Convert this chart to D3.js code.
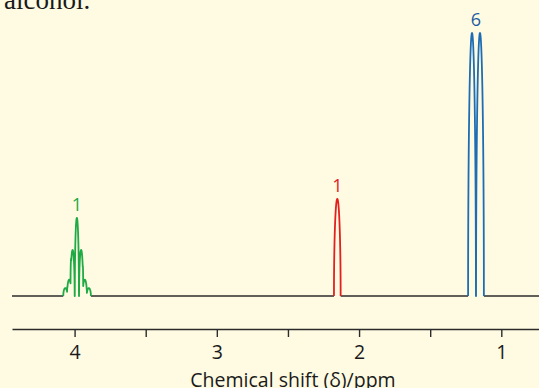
<!DOCTYPE html>
<html>
<head>
<meta charset="utf-8">
<script src="https://cdn.jsdelivr.net/npm/d3@7"></script>
<style>
  html, body { margin: 0; padding: 0; background: #fffbe3; }
  svg { display: block; }
  .tick text { font-family: "Open Sans", sans-serif; }
</style>
</head>
<body>
<svg id="chart" width="539" height="388"></svg>
<script>
// spectrum range shown (ppm, high to low)
const shiftRange = [4.44, 0.735];
const tickValues = [4, 3.5, 3, 2.5, 2, 1.5, 1];
const tickLabels = ['4', '', '3', '', '2', '', '1'];

// signal groups: label, colour, line positions (ppm), relative heights, half width (ppm)
const groupLabels = ['1', '1', '6'];
const groupColors = ['#1faa45', '#e3201e', '#1e6db4'];
const labelColors = ['#1faa45', '#e3201e', '#1f5b9f'];
const groupShifts = [
  [4.065, 4.038, 4.014, 3.984, 3.954, 3.928, 3.900],
  [2.153],
  [1.206, 1.150]
];
const groupHeights = [
  [3.0, 6.2, 17.5, 29.7, 17.5, 6.2, 3.0],
  [36.9],
  [100, 100]
];
const groupWidths = [0.0145, 0.0235, 0.0275];

const svg = d3.select('#chart');
const [width, height] = [539, 388];

svg.append('rect').attr('width', width).attr('height', height).attr('fill', '#fffbe3');

// leftover caption from the page above
svg.append('text')
  .attr('x', 4).attr('y', 9)
  .attr('font-family', '"Liberation Serif", serif')
  .attr('font-size', 27)
  .attr('fill', '#1a1a1a')
  .text('alcohol.');

const x = d3.scaleLinear().domain(shiftRange).range([12, 539]);
const y = d3.scaleLinear().domain([0, 100]).range([296, 33]);

// each line is an elliptical bump, group path is the sum sampled finely
const groups = groupShifts.map((shifts, i) => {
  const w = groupWidths[i];
  const lo = d3.min(shifts) - w, hi = d3.max(shifts) + w;
  const pts = [];
  const n = 600;
  for (let k = 0; k <= n; k++) {
    const s = hi - (hi - lo) * k / n;
    let v = 0;
    shifts.forEach((c, j) => {
      const u = (s - c) / w;
      if (Math.abs(u) < 1) v += groupHeights[i][j] * Math.sqrt(1 - u * u);
    });
    pts.push([s, v]);
  }
  return {lo, hi, pts, color: groupColors[i], labelColor: labelColors[i], label: groupLabels[i],
    top: d3.max(groupHeights[i]), center: d3.mean(shifts)};
});

// black baseline outside the signals
const sorted = groups.slice().sort((a, b) => b.hi - a.hi);
let start = shiftRange[0];
const segs = [];
sorted.forEach(g => { segs.push([start, g.hi]); start = g.lo; });
segs.push([start, shiftRange[1]]);
svg.append('g').selectAll('line')
  .data(segs)
  .enter().append('line')
  .attr('x1', d => x(d[0])).attr('x2', d => x(d[1]))
  .attr('y1', y(0)).attr('y2', y(0))
  .attr('stroke', '#2b2b2b').attr('stroke-width', 1.6);

const line = d3.line().x(d => x(d[0])).y(d => y(d[1]));

svg.append('g').selectAll('path')
  .data(groups)
  .enter().append('path')
  .attr('d', d => line(d.pts))
  .attr('fill', 'none')
  .attr('stroke', d => d.color)
  .attr('stroke-width', 1.8)
  .attr('stroke-linejoin', 'round');

svg.append('g').selectAll('text')
  .data(groups)
  .enter().append('text')
  .attr('x', d => x(d.center))
  .attr('y', d => y(d.top) - 7)
  .attr('text-anchor', 'middle')
  .attr('font-family', '"Open Sans", sans-serif')
  .attr('font-size', 18)
  .attr('fill', d => d.labelColor)
  .text(d => d.label);

// axis
const axis = svg.append('g')
  .attr('transform', 'translate(0,329)')
  .call(d3.axisBottom(x)
    .tickValues(tickValues)
    .tickFormat((d, i) => tickLabels[i])
    .tickSize(8)
    .tickSizeOuter(0)
    .tickPadding(8));
axis.select('.domain').attr('stroke', '#2b2b2b').attr('stroke-width', 1.6);
axis.selectAll('.tick line').attr('stroke', '#2b2b2b').attr('stroke-width', 1.4);
axis.selectAll('.tick text').attr('font-size', 19.5).attr('fill', '#1a1a1a');

svg.append('text')
  .attr('x', 293).attr('y', 386.5)
  .attr('text-anchor', 'middle')
  .attr('font-family', '"Open Sans", sans-serif')
  .attr('font-size', 19.5)
  .attr('fill', '#1a1a1a')
  .text('Chemical shift (δ)/ppm');
</script>
</body>
</html>
